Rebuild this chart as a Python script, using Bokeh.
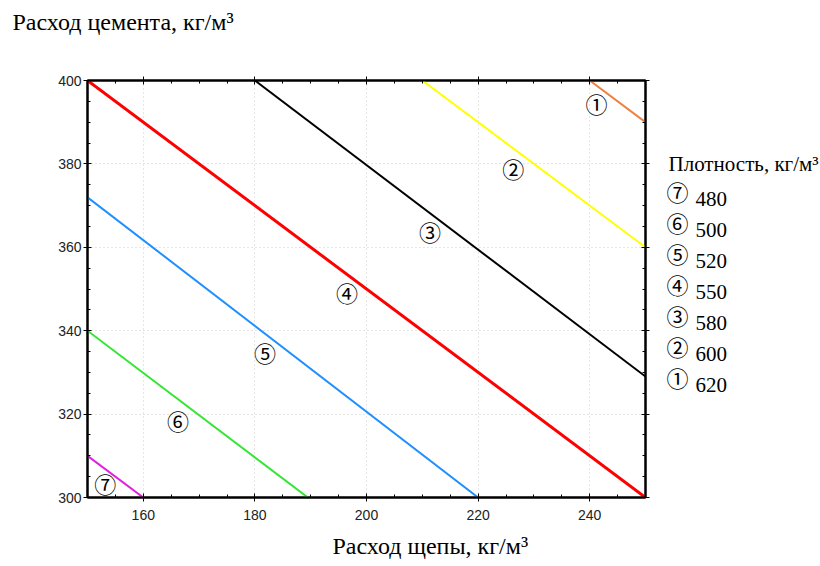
from bokeh.plotting import figure
from bokeh.layouts import row
from bokeh.models import ColumnDataSource, LinearAxis, Range1d, FixedTicker, Title
from bokeh.core.properties import value
from bokeh.embed import file_html
from bokeh.resources import INLINE

# ---- data ----
densities = [620, 600, 580, 550, 520, 500, 480]
marks = ["①", "②", "③", "④", "⑤", "⑥", "⑦"]
colors = ["#F08040", "#FFFF00", "#000000", "#FF0000", "#1E8FFF", "#33E633", "#E020E0"]
widths = [2, 2, 2, 3, 2, 2, 2]
x_start = [240, 210, 180, 150, 150, 150, 150]
y_start = [400, 400, 400, 400, 372, 340, 310]
x_end = [250, 250, 250, 250, 220, 189.5, 160]
y_end = [390, 360, 329, 300, 300, 300, 300]
label_x = [241.2, 226.3, 211.4, 196.5, 181.8, 166.2, 153.2]
label_y = [394.5, 379.1, 363.8, 349.2, 334.8, 318.5, 303.4]
x_ticks = [160, 180, 200, 220, 240]
y_ticks = [300, 320, 340, 360, 380, 400]
x_minor = [150 + 5 * i for i in range(21)]
y_minor = [300 + 5 * i for i in range(21)]

serif = "Liberation Serif"
H = 566
FRAME_TOP, FRAME_BOTTOM = 80, 497
p = figure(width=660, height=H, output_backend="svg", toolbar_location=None,
           x_range=Range1d(150, 250), y_range=Range1d(300, 400),
           min_border_left=87, min_border_right=15, min_border_top=FRAME_TOP,
           min_border_bottom=H - FRAME_BOTTOM, title=None)
p.xaxis.visible = False
p.yaxis.visible = False
axes = {}
for loc in ["below", "left", "above", "right"]:
    horiz = loc in ("below", "above")
    ax = LinearAxis(ticker=FixedTicker(ticks=x_ticks if horiz else y_ticks,
                                       minor_ticks=x_minor if horiz else y_minor))
    ax.axis_line_color = "black"
    ax.axis_line_width = 2
    ax.major_tick_in = 4
    ax.major_tick_out = 4
    ax.minor_tick_in = 3
    ax.minor_tick_out = 0
    ax.major_label_text_font = "Liberation Sans"
    ax.major_label_text_font_size = "14px"
    ax.major_label_text_color = "#222222"
    ax.major_label_standoff = 8 if horiz else 2
    if loc in ("above", "right"):
        ax.major_label_text_font_size = "0px"
        ax.major_label_text_color = None
        ax.major_label_standoff = 0
    axes[loc] = ax

p.xgrid.ticker = x_ticks
p.ygrid.ticker = y_ticks
p.grid.grid_line_color = "#cccccc"
p.grid.grid_line_dash = "1 3"
p.outline_line_color = "black"
p.outline_line_width = 2
p.background_fill_color = "white"

src = ColumnDataSource(dict(x0=x_start, y0=y_start, x1=x_end, y1=y_end,
                            c=colors, w=widths, lx=label_x, ly=label_y, m=marks))
p.segment("x0", "y0", "x1", "y1", source=src, line_color="c", line_width="w")
p.text("lx", "ly", text="m", source=src, text_font=value("Noto Sans CJK JP"),
       text_font_size="22px", text_align="center", text_baseline="middle", text_color="black")

top_title = Title(text="Расход цемента, кг/м³", align="left", offset=-75,
                  text_font=serif, text_font_size="24px", text_font_style="normal",
                  text_color="black")
spacer_top = Title(text=" ", text_font_size="22px")
x_title = Title(text="Расход щепы, кг/м³", align="left", offset=245,
                text_font=serif, text_font_size="24px", text_font_style="normal",
                text_color="black", standoff=0)
spacer_bottom = Title(text=" ", text_font_size="6px", standoff=0)

p.above = [axes["above"], spacer_top, top_title]
p.below = [axes["below"], spacer_bottom, x_title]
p.left = [axes["left"]]
p.right = [axes["right"]]

# ---- legend panel (separate figure; its frame lines up with the chart frame) ----
lw = 160
lg = figure(width=lw, height=H, output_backend="svg", toolbar_location=None,
            x_range=Range1d(0, lw), y_range=Range1d(FRAME_BOTTOM, FRAME_TOP),
            x_axis_location=None, y_axis_location=None,
            min_border_left=0, min_border_right=0,
            min_border_top=FRAME_TOP, min_border_bottom=H - FRAME_BOTTOM)
lg.grid.visible = False
lg.outline_line_color = None

leg_marks = marks[::-1]
leg_vals = [str(d) for d in densities[::-1]]
n = len(leg_marks)
row_y = [190 + 31 * i for i in range(n)]
lsrc = ColumnDataSource(dict(m=leg_marks, v=leg_vals, y=row_y,
                             y_num=[yy + 8 for yy in row_y],
                             xm=[17] * n, xv=[35] * n))
lg.text(x=[8], y=[163], text=["Плотность, кг/м³"], text_font=value(serif),
        text_font_size="21px", text_baseline="alphabetic", text_color="black")
lg.text("xm", "y", text="m", source=lsrc, text_font=value("Noto Sans CJK JP"),
        text_font_size="22px", text_align="center", text_baseline="middle", text_color="black")
lg.text("xv", "y_num", text="v", source=lsrc, text_font=value(serif),
        text_font_size="21px", text_baseline="alphabetic", text_color="black")

layout = row(p, lg, spacing=0)
open("out.html", "w").write(file_html(layout, INLINE))
